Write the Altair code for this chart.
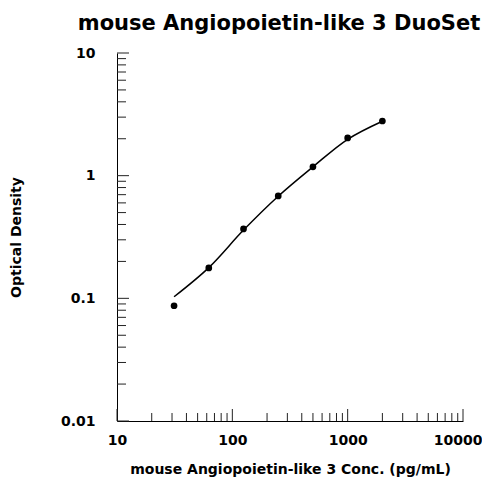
import altair as alt
import pandas as pd

# Data
conc = [31.25, 62.5, 125, 250, 500, 1000, 2000]
od = [0.087, 0.177, 0.368, 0.683, 1.18, 2.03, 2.79]
curve_od = [0.103, 0.178, 0.36, 0.68, 1.18, 1.98, 2.78]

x_major = [10, 100, 1000, 10000]
x_minor = [20, 30, 40, 50, 60, 70, 80, 90,
           200, 300, 400, 500, 600, 700, 800, 900,
           2000, 3000, 4000, 5000, 6000, 7000, 8000, 9000]
y_major = [0.01, 0.1, 1, 10]
y_minor = [0.02, 0.03, 0.04, 0.05, 0.06, 0.07, 0.08, 0.09,
           0.2, 0.3, 0.4, 0.5, 0.6, 0.7, 0.8, 0.9,
           2, 3, 4, 5, 6, 7, 8, 9]

W, H = 346, 368
FONT = "DejaVu Sans"

pts = pd.DataFrame({"conc": conc, "od": od})
crv = pd.DataFrame({"conc": conc, "od": curve_od})

xs = alt.Scale(type="log", domain=[10, 10000], nice=False)
ys = alt.Scale(type="log", domain=[0.01, 10], nice=False)

XT = "mouse Angiopoietin-like 3 Conc. (pg/mL)"
YT = "Optical Density"

x_axis = alt.Axis(values=x_major, labelExpr="format(datum.value, '~g')",
                  grid=False, ticks=False, tickSize=0, domainColor="black",
                  labelFont=FONT, labelFontSize=14, labelFontWeight="bold",
                  labelColor="black", labelPadding=23, labelBaseline="alphabetic",
                  labelFlush=False, labelOverlap=False, labelBound=False,
                  labelAlign={"condition": {"test": "datum.value === 10000", "value": "right"},
                              "value": "center"},
                  labelOffset={"condition": {"test": "datum.value === 10000", "value": 19},
                               "value": 0},
                  title=XT,
                  titleFont=FONT, titleFontSize=14, titleFontWeight="bold",
                  titleColor="black", titleBaseline="alphabetic", titleY=52,
                  titleX=W / 2, titleAnchor="middle")
y_axis = alt.Axis(values=y_major, labelExpr="format(datum.value, '~g')",
                  grid=False, ticks=False, tickSize=0, domainColor="black",
                  labelFont=FONT, labelFontSize=14, labelFontWeight="bold",
                  labelColor="black", labelPadding=22, labelFlush=False,
                  labelOverlap=False,
                  title=YT,
                  titleFont=FONT, titleFontSize=14, titleFontWeight="bold",
                  titleColor="black", titleBaseline="middle", titleX=-101,
                  titleY=H / 2, titleAngle=-90, titleAnchor="middle")

line = alt.Chart(crv).mark_line(color="black", strokeWidth=1.5, interpolate="catmull-rom").encode(
    x=alt.X("conc:Q", scale=xs, axis=x_axis, title=XT),
    y=alt.Y("od:Q", scale=ys, axis=y_axis, title=YT),
)
dots = alt.Chart(pts).mark_circle(color="black", opacity=1, size=45).encode(
    x=alt.X("conc:Q", scale=xs, axis=x_axis, title=XT),
    y=alt.Y("od:Q", scale=ys, axis=y_axis, title=YT),
)

xt_major = alt.Chart(pd.DataFrame({"v": x_major})).mark_rule(color="#222", strokeWidth=1).encode(
    x=alt.X("v:Q", scale=xs, axis=x_axis, title=XT), y=alt.value(H), y2=alt.value(H - 12))
xt_minor = alt.Chart(pd.DataFrame({"v": x_minor})).mark_rule(color="#222", strokeWidth=1).encode(
    x=alt.X("v:Q", scale=xs, axis=x_axis, title=XT), y=alt.value(H), y2=alt.value(H - 8))
yt_major = alt.Chart(pd.DataFrame({"v": y_major})).mark_rule(color="#222", strokeWidth=1).encode(
    y=alt.Y("v:Q", scale=ys, axis=y_axis, title=YT), x=alt.value(0), x2=alt.value(12))
yt_minor = alt.Chart(pd.DataFrame({"v": y_minor})).mark_rule(color="#222", strokeWidth=1).encode(
    y=alt.Y("v:Q", scale=ys, axis=y_axis, title=YT), x=alt.value(0), x2=alt.value(9))

chart = alt.layer(line, xt_major, xt_minor, yt_major, yt_minor, dots).properties(
    width=W, height=H,
    autosize="none",
    padding={"left": 109, "top": 45, "right": 19, "bottom": 60},
    background="white",
    title=alt.TitleParams("mouse Angiopoietin-like 3 DuoSet", font=FONT, fontSize=21,
                          fontWeight="bold", color="black", anchor="middle",
                          frame="group", baseline="alphabetic", offset=15, dy=20, dx=-11),
).configure_view(stroke=None)

chart.save("out.html", embed_options={"renderer": "svg", "actions": False})
